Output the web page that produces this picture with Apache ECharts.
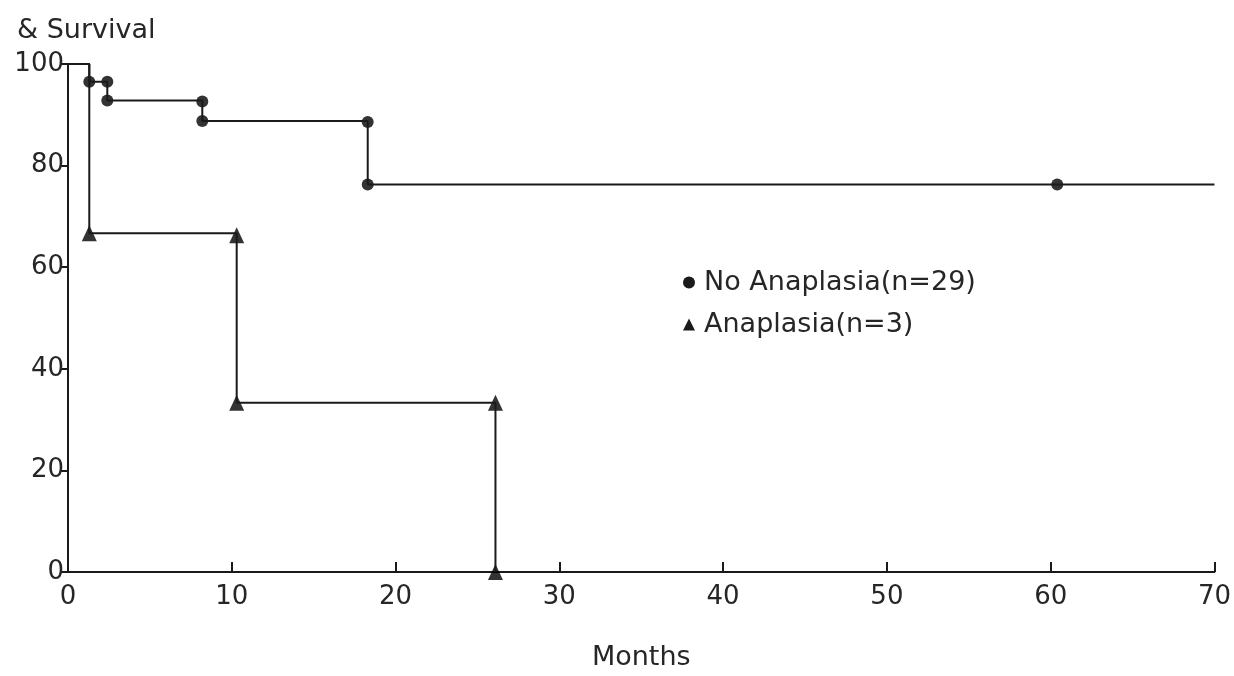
<!DOCTYPE html>
<html>
<head>
<meta charset="utf-8">
<script src="https://cdn.jsdelivr.net/npm/echarts@6/dist/echarts.min.js"></script>
<style>
html,body{margin:0;padding:0;background:#fff;}
#chart{width:1234px;height:676px;}
</style>
</head>
<body>
<div id="chart"></div>
<script>
// Kaplan-Meier steps (months, % survival)
var noAnaStep = [[0,100],[1.3,96.5],[2.4,92.8],[8.2,88.8],[18.3,76.3],[70,76.3]];
var noAnaMarks = [[1.3,96.5],[2.4,96.5],[2.4,92.8],[8.2,92.6],[8.2,88.8],[18.3,88.6],[18.3,76.3],[60.4,76.3]];
var anaStep = [[0,100],[1.3,66.7],[10.3,33.3],[26.1,0]];
var anaMarks = [[1.3,66.7],[10.3,66.3],[10.3,33.3],[26.1,33.3],[26.1,0]];
var xTicks = [0,10,20,30,40,50,60,70];
var yTicks = [0,20,40,60,80,100];
var nameNo = 'No Anaplasia(n=29)';
var nameAna = 'Anaplasia(n=3)';

var font = '"DejaVu Sans", Arial, sans-serif';
var ink = '#1a1a1a';
var txt = '#262626';
var chart = echarts.init(document.getElementById('chart'));
chart.setOption({
  backgroundColor: '#fff',
  animation: false,
  title: {
    text: '& Survival', left: 12, top: 12,
    textStyle: {fontFamily: font, fontSize: 27, fontWeight: 'normal', color: txt}
  },
  legend: {
    orient: 'vertical', left: 678, top: 264, itemGap: 15,
    itemWidth: 12, itemHeight: 12,
    textStyle: {fontFamily: font, fontSize: 27, color: txt, padding: [0,0,0,4]},
    data: [{name: nameNo, icon: 'circle'}, {name: nameAna, icon: 'triangle'}]
  },
  grid: {left: 68, right: 18, top: 64, bottom: 101},
  xAxis: {
    type: 'value', min: xTicks[0], max: xTicks[xTicks.length-1], interval: 10,
    name: 'Months', nameLocation: 'middle', nameGap: 72,
    nameTextStyle: {fontFamily: font, fontSize: 27, color: txt},
    axisLine: {lineStyle: {color: ink, width: 2}},
    axisTick: {inside: true, length: 10, lineStyle: {color: ink, width: 2}},
    axisLabel: {fontFamily: font, fontSize: 26, color: txt, margin: 12},
    splitLine: {show: false}
  },
  yAxis: {
    type: 'value', min: yTicks[0], max: yTicks[yTicks.length-1], interval: 20,
    axisLine: {show: true, lineStyle: {color: ink, width: 2}},
    axisTick: {show: true, length: 7, lineStyle: {color: ink, width: 2}},
    axisLabel: {fontFamily: font, fontSize: 26, color: txt, margin: 4},
    splitLine: {show: false}
  },
  series: [
    {name: nameNo, type: 'line', step: 'end', data: noAnaStep, showSymbol: false,
     lineStyle: {color: ink, width: 2}, itemStyle: {color: ink}},
    {name: nameNo, type: 'scatter', data: noAnaMarks, symbol: 'circle', symbolSize: 12,
     itemStyle: {color: '#000'}},
    {name: nameAna, type: 'line', step: 'end', data: anaStep, showSymbol: false,
     lineStyle: {color: ink, width: 2}, itemStyle: {color: ink}},
    {name: nameAna, type: 'scatter', data: anaMarks, symbol: 'triangle', symbolSize: [15,16],
     itemStyle: {color: '#000'}}
  ]
});
</script>
</body>
</html>
